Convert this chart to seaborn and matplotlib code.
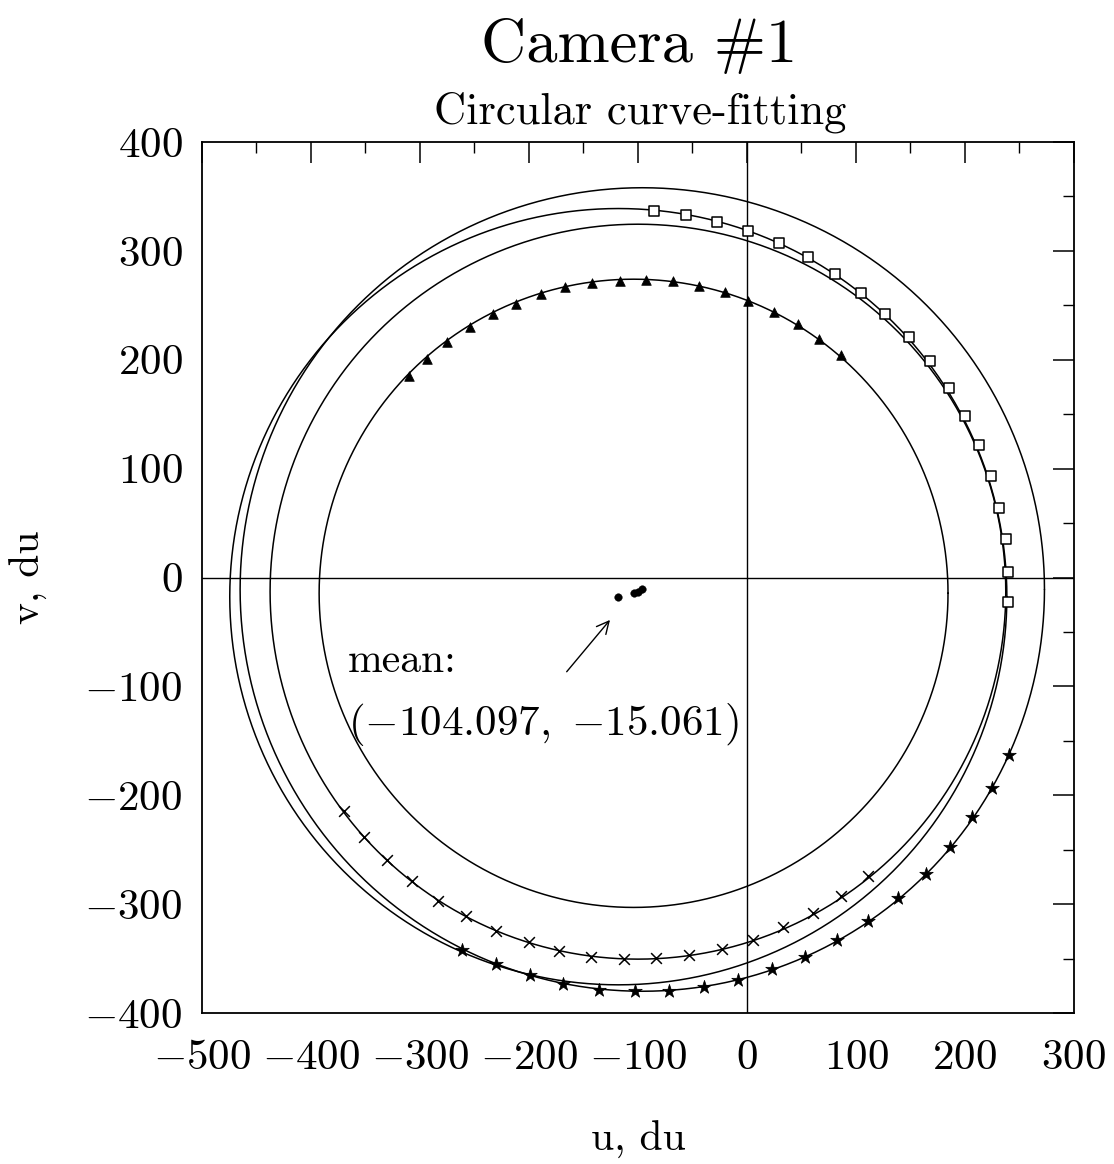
import numpy as np
import pandas as pd
import matplotlib
matplotlib.use("Agg")
import matplotlib.pyplot as plt
from matplotlib.ticker import MultipleLocator
import seaborn as sns

# ---- fitted circles (center u, center v, radius), one per data set ----
circle_names = ["squares", "triangles", "crosses", "stars"]
center_u = [-118.0, -104.0, -100.0, -96.0]
center_v = [-17.6, -14.5, -13.0, -11.0]
radius = [356.5, 288.5, 337.5, 369.0]

# ---- measured points ----
sq_u = [-85.3, -56.0, -27.5, 0.9, 29.4, 56.0, 80.7, 104.6, 126.6, 148.6,
        167.9, 185.3, 200.0, 212.8, 223.9, 231.2, 237.6, 239.4, 239.4]
sq_v = [336.4, 332.7, 326.3, 318.0, 307.0, 294.1, 278.5, 261.0, 241.7, 220.6,
        198.5, 173.7, 148.0, 121.3, 92.8, 64.3, 35.8, 5.5, -22.1]

tri_u = [-310.2, -293.5, -275.1, -253.8, -233.1, -211.6, -188.9, -167.0, -142.4, -116.9,
         -92.9, -67.7, -43.8, -20.2, 1.1, 25.0, 46.5, 66.3, 86.2]
tri_v = [184.7, 201.0, 216.6, 230.1, 242.4, 251.6, 260.4, 266.8, 270.5, 272.7,
         273.6, 272.1, 268.1, 261.9, 254.0, 243.8, 233.2, 219.0, 204.0]

x_u = [-370.1, -351.2, -329.9, -307.3, -283.5, -257.4, -230.6, -200.4, -172.2, -143.0,
       -112.9, -83.1, -52.9, -23.1, 6.0, 33.3, 60.8, 86.2, 111.3]
x_v = [-214.4, -238.1, -259.2, -279.1, -296.9, -311.3, -324.4, -335.2, -343.1, -348.1,
       -350.8, -349.9, -346.5, -341.3, -332.7, -320.8, -307.9, -292.3, -274.0]

star_u = [-261.0, -230.6, -199.1, -168.3, -135.8, -102.8, -71.5, -39.0, -7.8, 22.7,
          53.2, 82.8, 111.3, 138.8, 163.9, 186.2, 206.7, 224.5, 240.6]
star_v = [-342.2, -355.1, -365.2, -373.2, -378.7, -380.2, -379.6, -375.9, -369.3, -359.6,
          -348.1, -332.7, -315.3, -294.8, -272.3, -247.9, -220.3, -193.3, -163.0]

mean_label = "({-}104.097,\\ {-}15.061)"

# ---- style ----
sns.set_theme(style="white")
plt.rcParams["font.family"] = ["cmr10", "DejaVu Serif"]
plt.rcParams["mathtext.fontset"] = "cm"
plt.rcParams["axes.formatter.use_mathtext"] = True
plt.rcParams["axes.unicode_minus"] = True
plt.rcParams["text.color"] = "black"
plt.rcParams["axes.labelcolor"] = "black"
plt.rcParams["xtick.color"] = "black"
plt.rcParams["ytick.color"] = "black"

fig = plt.figure(figsize=(11.14, 11.64), dpi=100)
ax = fig.add_axes([0.1813, 0.1297, 0.7827, 0.7483])

# circles
theta = np.linspace(0, 2 * np.pi, 721)
rows = []
for name, cu, cv, r in zip(circle_names, center_u, center_v, radius):
    rows.append(pd.DataFrame({"u": cu + r * np.cos(theta),
                              "v": cv + r * np.sin(theta),
                              "circle": name}))
circles = pd.concat(rows, ignore_index=True)
for name in circle_names:
    sns.lineplot(data=circles[circles["circle"] == name], x="u", y="v",
                 sort=False, estimator=None, color="black", lw=1.1, ax=ax)

# axes lines through the origin
ax.axhline(0, color="black", lw=1.0)
ax.axvline(0, color="black", lw=1.0)

# data points
sns.scatterplot(x=sq_u, y=sq_v, marker="s", s=62, facecolor="white",
                edgecolor="black", linewidth=1.1, ax=ax, zorder=5)
sns.scatterplot(x=tri_u, y=tri_v, marker="^", s=48, color="black",
                edgecolor="black", linewidth=0.5, ax=ax, zorder=5)
sns.scatterplot(x=x_u, y=x_v, marker="x", s=60, color="black",
                linewidth=1.1, ax=ax, zorder=5)
sns.scatterplot(x=star_u, y=star_v, marker="*", s=105, color="black",
                edgecolor="black", linewidth=0.5, ax=ax, zorder=5)

# centers
sns.scatterplot(x=center_u, y=center_v, marker="o", s=30, color="black",
                edgecolor="black", linewidth=0.3, ax=ax, zorder=6)

# annotation
ax.annotate("", xy=(-124.0, -37.0), xytext=(-167.0, -88.5),
            arrowprops=dict(arrowstyle="->", color="black", lw=1.0,
                            mutation_scale=22))
ax.text(-366, -87, "mean:", fontsize=30, ha="left", va="baseline")
ax.text(-366, -145, "$\\mathrm{" + mean_label + "}$", fontsize=31,
        ha="left", va="baseline")

# limits, ticks
ax.set_xlim(-500, 300)
ax.set_ylim(-400, 400)
ax.set_xticks(np.arange(-500, 301, 100))
ax.set_yticks(np.arange(-400, 401, 100))
ax.xaxis.set_minor_locator(MultipleLocator(50))
ax.yaxis.set_minor_locator(MultipleLocator(50))
ax.tick_params(which="major", direction="in", length=15, width=1.1,
               top=True, right=True, labelsize=31)
ax.tick_params(which="minor", direction="in", length=8, width=1.0,
               top=True, right=True)
ax.tick_params(axis="x", which="major", pad=19)
ax.tick_params(axis="y", which="major", pad=14)
for sp in ax.spines.values():
    sp.set_linewidth(1.3)
    sp.set_color("black")

ax.set_xlabel("u, du", fontsize=30, labelpad=32)
ax.set_ylabel("v, du", fontsize=30, labelpad=26)

fig.text(0.574, 0.947, "Camera #1", fontsize=45, ha="center", va="baseline")
fig.text(0.575, 0.894, "Circular curve-fitting", fontsize=32, ha="center",
         va="baseline")

fig.savefig("out.png", dpi=100)
